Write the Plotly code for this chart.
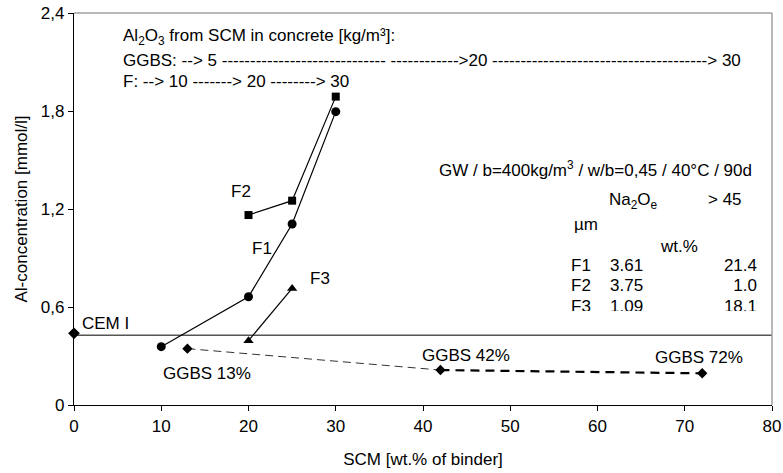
import plotly.graph_objects as go

# ---------------- data ----------------
cem_x = [0]
cem_y = [0.439]
ref_level = 0.427  # CEM I reference level

f1_x = [10, 20, 25, 30]
f1_y = [0.357, 0.663, 1.108, 1.796]
f2_x = [20, 25, 30]
f2_y = [1.163, 1.251, 1.888]
f3_x = [20, 25]
f3_y = [0.394, 0.714]

ggbs_x = [13, 42, 72]
ggbs_y = [0.345, 0.214, 0.194]
ggbs_labels = ["GGBS 13%", "GGBS 42%", "GGBS 72%"]

x_ticks = [0, 10, 20, 30, 40, 50, 60, 70, 80]
y_ticks = [0, 0.6, 1.2, 1.8, 2.4]
y_ticktext = ["0", "0,6", "1,2", "1,8", "2,4"]

fa_names = ["F1", "F2", "F3"]
fa_na2oe = ["3.61", "3.75", "1.09"]
fa_gt45 = ["21.4", "1.0", "18.1"]

# ---------------- geometry helpers ----------------
W, H = 783, 473
ML, MR, MT, MB = 74, 11, 13, 68
XMAX, YMAX = 80, 2.4
PW = W - ML - MR
PH = H - MT - MB


def dx(px):
    return (px - ML) / PW * XMAX


def dy(py):
    return (H - MB - py) / PH * YMAX


FONT = "Liberation Sans, Arial, sans-serif"
FS = 17

fig = go.Figure()

# reference horizontal line
fig.add_trace(go.Scatter(x=[0, XMAX], y=[ref_level, ref_level], mode="lines",
                         line=dict(color="#555555", width=1.6), showlegend=False,
                         hoverinfo="skip"))

# GGBS dashed lines
fig.add_trace(go.Scatter(x=ggbs_x[:2], y=ggbs_y[:2], mode="lines",
                         line=dict(color="#333333", width=1, dash="8px,5px"),
                         showlegend=False))
fig.add_trace(go.Scatter(x=ggbs_x[1:], y=ggbs_y[1:], mode="lines",
                         line=dict(color="black", width=2.2, dash="9px,6px"),
                         showlegend=False))
fig.add_trace(go.Scatter(x=ggbs_x, y=ggbs_y, mode="markers",
                         marker=dict(symbol="diamond", size=8, color="black"),
                         showlegend=False))

# CEM I
fig.add_trace(go.Scatter(x=cem_x, y=cem_y, mode="markers", cliponaxis=False,
                         marker=dict(symbol="diamond", size=9, color="black"),
                         showlegend=False))

# Fly ashes
fig.add_trace(go.Scatter(x=f1_x, y=f1_y, mode="lines+markers",
                         line=dict(color="black", width=1.2),
                         marker=dict(symbol="circle", size=9, color="black"),
                         showlegend=False))
fig.add_trace(go.Scatter(x=f2_x, y=f2_y, mode="lines+markers",
                         line=dict(color="black", width=1.2),
                         marker=dict(symbol="square", size=8, color="black"),
                         showlegend=False))
fig.add_trace(go.Scatter(x=f3_x, y=f3_y, mode="lines+markers",
                         line=dict(color="black", width=1.2),
                         marker=dict(symbol="triangle-up", size=9, color="black"),
                         showlegend=False))

# ---------------- clipped table (second invisible subplot) ----------------
clip_px = 311
y2_bottom = dy(clip_px)
dom_bottom = (H - MB - clip_px) / PH
row_py = [267, 287, 308]
fig.add_trace(go.Scatter(x=[dx(571)] * 3, y=[dy(p) for p in row_py], text=fa_names,
                         mode="text", textposition="middle right", cliponaxis=True,
                         textfont=dict(family=FONT, size=FS, color="black"),
                         xaxis="x2", yaxis="y2", showlegend=False))
fig.add_trace(go.Scatter(x=[dx(610)] * 3, y=[dy(p) for p in row_py], text=fa_na2oe,
                         mode="text", textposition="middle right", cliponaxis=True,
                         textfont=dict(family=FONT, size=FS, color="black"),
                         xaxis="x2", yaxis="y2", showlegend=False))
fig.add_trace(go.Scatter(x=[dx(757)] * 3, y=[dy(p) for p in row_py], text=fa_gt45,
                         mode="text", textposition="middle left", cliponaxis=True,
                         textfont=dict(family=FONT, size=FS, color="black"),
                         xaxis="x2", yaxis="y2", showlegend=False))

# ---------------- annotations ----------------
ann = []


def add(text, px, py, anchor="left"):
    ann.append(dict(text=text, x=dx(px), y=dy(py), xref="x", yref="y",
                    xanchor=anchor, yanchor="middle", showarrow=False,
                    font=dict(family=FONT, size=FS, color="black")))


add("Al<sub>2</sub>O<sub>3</sub> from SCM in concrete [kg/m³]:", 121, 37)
add("GGBS: --> 5 " + "-" * 29 + " " + "-" * 12 + ">20 " + "-" * 38 + "> 30", 121, 60)
add("F: --> 10 -------> 20 --------> 30", 121, 81)
add("GW / b=400kg/m<sup>3</sup> / w/b=0,45 / 40°C / 90d", 754, 169, "right")
add("Na<sub>2</sub>O<sub>e</sub>", 607, 201)
add("> 45", 706, 199)
add("µm", 572, 224)
add("wt.%", 658, 246)
add("CEM I", 80, 323)
add("F2", 229, 191)
add("F1", 250, 248)
add("F3", 308, 278)
add(ggbs_labels[0], 161, 373)
add(ggbs_labels[1], 420, 355)
add(ggbs_labels[2], 653, 357)

# frame (top & right, light grey)
shapes = [
    dict(type="line", xref="paper", yref="paper", x0=0, x1=1, y0=1, y1=1,
         line=dict(color="#A0A0A0", width=1.5)),
    dict(type="line", xref="paper", yref="paper", x0=1, x1=1, y0=0, y1=1,
         line=dict(color="#A0A0A0", width=1.5)),
]

fig.update_layout(
    width=W, height=H,
    margin=dict(l=ML, r=MR, t=MT, b=MB, autoexpand=False),
    plot_bgcolor="rgba(0,0,0,0)", paper_bgcolor="white",
    font=dict(family=FONT, size=FS, color="black"),
    annotations=ann, shapes=shapes,
    xaxis=dict(range=[0, XMAX], tickvals=x_ticks, showgrid=False, zeroline=False,
               showline=True, linecolor="black", linewidth=1.2, automargin=False,
               ticks="outside", ticklen=5, tickcolor="black", tickwidth=1.2,
               tickfont=dict(family=FONT, size=FS),
               title=dict(text="SCM [wt.% of binder]", standoff=18,
                          font=dict(family=FONT, size=FS))),
    yaxis=dict(range=[0, YMAX], tickvals=y_ticks, ticktext=y_ticktext,
               showgrid=False, zeroline=False, automargin=False,
               showline=True, linecolor="black", linewidth=1.2,
               ticks="outside", ticklen=5, tickcolor="black", tickwidth=1.2,
               tickfont=dict(family=FONT, size=FS),
               title=dict(text="Al-concentration [mmol/l]", standoff=8,
                          font=dict(family=FONT, size=FS))),
    xaxis2=dict(domain=[0, 1], range=[0, XMAX], anchor="y2", visible=False),
    yaxis2=dict(domain=[dom_bottom, 1], range=[y2_bottom, YMAX], anchor="x2",
                visible=False),
)

fig.write_html("out.html")
